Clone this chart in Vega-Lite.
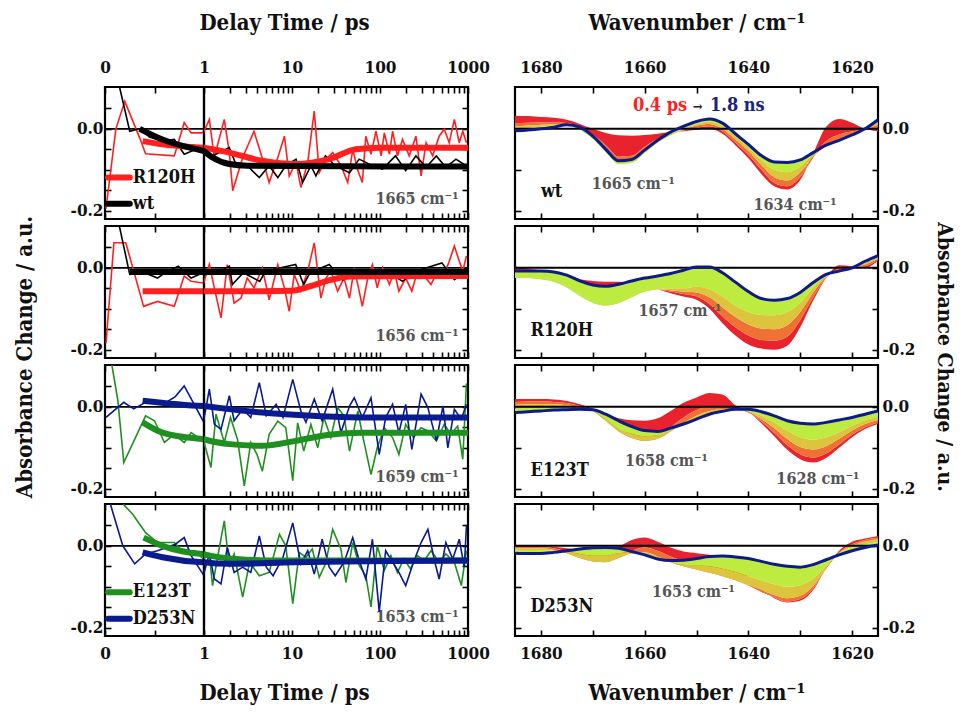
{
"$schema": "https://vega.github.io/schema/vega-lite/v6.json",
"background": "white",
"padding": {"left": 13, "top": 9, "right": 4, "bottom": 0},
"data": {"values": [{}]},
"config": {
  "font": "DejaVu Serif Condensed, Liberation Serif, serif",
  "view": {"stroke": "#000", "strokeWidth": 2.2},
  "axis": {"domain": false, "grid": false, "tickSize": -6, "tickWidth": 1.6, "tickColor": "#000",
    "labelFont": "DejaVu Serif Condensed, Liberation Serif, serif", "labelFontSize": 17, "labelFontWeight": "bold", "labelColor": "#111",
    "titleFont": "DejaVu Serif Condensed, Liberation Serif, serif", "titleFontSize": 22, "titleFontWeight": "bold", "titleColor": "#111",
    "minExtent": 0, "labelFlush": false, "labelOverlap": false, "labelBound": false},
  "title": {"font": "DejaVu Serif Condensed, Liberation Serif, serif", "fontSize": 22, "fontWeight": "bold", "color": "#111"},
  "text": {"font": "DejaVu Serif Condensed, Liberation Serif, serif", "fontWeight": "bold"}
},
"datasets": {
  "k1665": [
    {"s":"R120H","t":0.01,"v":-0.195},{"s":"R120H","t":0.11,"v":0.0},{"s":"R120H","t":0.2,"v":0.067},{"s":"R120H","t":0.35,"v":-0.022},{"s":"R120H","t":0.41,"v":-0.061},{"s":"R120H","t":0.7,"v":-0.066},{"s":"R120H","t":0.8,"v":0.015},{"s":"R120H","t":0.87,"v":-0.01},{"s":"R120H","t":0.98,"v":-0.01},{"s":"R120H","t":1.15,"v":0.023},{"s":"R120H","t":1.31,"v":-0.07},{"s":"R120H","t":1.7,"v":0.023},{"s":"R120H","t":1.94,"v":-0.058},{"s":"R120H","t":2.12,"v":-0.151},{"s":"R120H","t":2.75,"v":-0.07},{"s":"R120H","t":3.7,"v":-0.006},{"s":"R120H","t":4.64,"v":-0.074},{"s":"R120H","t":5.5,"v":-0.131},{"s":"R120H","t":6.9,"v":-0.07},{"s":"R120H","t":8.2,"v":-0.018},{"s":"R120H","t":9.3,"v":-0.115},{"s":"R120H","t":11.1,"v":-0.082},{"s":"R120H","t":12.6,"v":-0.143},{"s":"R120H","t":15.1,"v":-0.082},{"s":"R120H","t":17.9,"v":0.043},{"s":"R120H","t":20.4,"v":-0.107},{"s":"R120H","t":24.3,"v":-0.074},{"s":"R120H","t":29,"v":-0.058},{"s":"R120H","t":36,"v":-0.09},{"s":"R120H","t":43,"v":-0.131},{"s":"R120H","t":49,"v":-0.05},{"s":"R120H","t":56,"v":-0.102},{"s":"R120H","t":63,"v":-0.131},{"s":"R120H","t":69,"v":-0.018},{"s":"R120H","t":79,"v":-0.062},{"s":"R120H","t":90,"v":-0.006},{"s":"R120H","t":103,"v":-0.066},{"s":"R120H","t":112,"v":-0.01},{"s":"R120H","t":128,"v":-0.062},{"s":"R120H","t":139,"v":-0.006},{"s":"R120H","t":158,"v":-0.066},{"s":"R120H","t":180,"v":-0.026},{"s":"R120H","t":215,"v":-0.066},{"s":"R120H","t":256,"v":-0.018},{"s":"R120H","t":293,"v":-0.115},{"s":"R120H","t":334,"v":-0.034},{"s":"R120H","t":397,"v":-0.066},{"s":"R120H","t":470,"v":-0.018},{"s":"R120H","t":537,"v":-0.001},{"s":"R120H","t":612,"v":-0.034},{"s":"R120H","t":700,"v":0.023},{"s":"R120H","t":796,"v":-0.034},{"s":"R120H","t":872,"v":-0.006},{"s":"R120H","t":960,"v":-0.034},
    {"s":"wt","t":0.12,"v":0.13},{"s":"wt","t":0.25,"v":-0.006},{"s":"wt","t":0.35,"v":0.0},{"s":"wt","t":0.45,"v":-0.02},{"s":"wt","t":0.58,"v":-0.03},{"s":"wt","t":0.7,"v":-0.026},{"s":"wt","t":0.8,"v":-0.062},{"s":"wt","t":0.92,"v":-0.05},{"s":"wt","t":0.99,"v":-0.054},{"s":"wt","t":1.25,"v":-0.066},{"s":"wt","t":1.94,"v":-0.046},{"s":"wt","t":2.3,"v":-0.086},{"s":"wt","t":3.1,"v":-0.09},{"s":"wt","t":4.25,"v":-0.119},{"s":"wt","t":5.5,"v":-0.09},{"s":"wt","t":6.9,"v":-0.119},{"s":"wt","t":8.5,"v":-0.09},{"s":"wt","t":11.1,"v":-0.074},{"s":"wt","t":13.2,"v":-0.131},{"s":"wt","t":16.4,"v":-0.09},{"s":"wt","t":18.7,"v":-0.115},{"s":"wt","t":24,"v":-0.066},{"s":"wt","t":31,"v":-0.09},{"s":"wt","t":45,"v":-0.107},{"s":"wt","t":58,"v":-0.074},{"s":"wt","t":82,"v":-0.09},{"s":"wt","t":107,"v":-0.098},{"s":"wt","t":150,"v":-0.066},{"s":"wt","t":196,"v":-0.102},{"s":"wt","t":256,"v":-0.066},{"s":"wt","t":334,"v":-0.094},{"s":"wt","t":437,"v":-0.066},{"s":"wt","t":560,"v":-0.094},{"s":"wt","t":730,"v":-0.074},{"s":"wt","t":950,"v":-0.09}
  ],
  "f1665": [
    {"s":"R120H","t":0.38,"v":-0.03},{"s":"R120H","t":0.58,"v":-0.038},{"s":"R120H","t":0.99,"v":-0.046},{"s":"R120H","t":1.94,"v":-0.058},{"s":"R120H","t":4.6,"v":-0.078},{"s":"R120H","t":11,"v":-0.086},{"s":"R120H","t":26.5,"v":-0.074},{"s":"R120H","t":53,"v":-0.05},{"s":"R120H","t":98,"v":-0.046},{"s":"R120H","t":1000,"v":-0.046},
    {"s":"wt","t":0.35,"v":0.0},{"s":"wt","t":0.58,"v":-0.026},{"s":"wt","t":0.99,"v":-0.054},{"s":"wt","t":1.25,"v":-0.07},{"s":"wt","t":1.94,"v":-0.086},{"s":"wt","t":3.1,"v":-0.09},{"s":"wt","t":10,"v":-0.091},{"s":"wt","t":1000,"v":-0.092}
  ],
  "k1656": [
    {"s":"R120H","t":0.01,"v":-0.184},{"s":"R120H","t":0.09,"v":0.061},{"s":"R120H","t":0.21,"v":0.061},{"s":"R120H","t":0.39,"v":-0.094},{"s":"R120H","t":0.53,"v":-0.082},{"s":"R120H","t":0.7,"v":-0.094},{"s":"R120H","t":0.8,"v":-0.02},{"s":"R120H","t":0.87,"v":-0.033},{"s":"R120H","t":0.99,"v":-0.037},{"s":"R120H","t":1.15,"v":0.008},{"s":"R120H","t":1.31,"v":-0.049},{"s":"R120H","t":1.56,"v":-0.122},{"s":"R120H","t":1.84,"v":0.008},{"s":"R120H","t":2.2,"v":-0.086},{"s":"R120H","t":2.63,"v":-0.074},{"s":"R120H","t":3.1,"v":-0.025},{"s":"R120H","t":3.7,"v":-0.049},{"s":"R120H","t":4.6,"v":0.0},{"s":"R120H","t":5.5,"v":-0.078},{"s":"R120H","t":6.9,"v":0.008},{"s":"R120H","t":8.2,"v":-0.049},{"s":"R120H","t":9.3,"v":-0.106},{"s":"R120H","t":10.6,"v":-0.016},{"s":"R120H","t":12.6,"v":-0.057},{"s":"R120H","t":15.1,"v":-0.008},{"s":"R120H","t":17.9,"v":0.061},{"s":"R120H","t":21.3,"v":-0.074},{"s":"R120H","t":24.3,"v":-0.025},{"s":"R120H","t":27.6,"v":-0.008},{"s":"R120H","t":33,"v":-0.057},{"s":"R120H","t":39,"v":-0.025},{"s":"R120H","t":45,"v":-0.074},{"s":"R120H","t":51,"v":0.0},{"s":"R120H","t":63,"v":-0.094},{"s":"R120H","t":72,"v":-0.029},{"s":"R120H","t":82,"v":0.008},{"s":"R120H","t":93,"v":-0.049},{"s":"R120H","t":107,"v":0.0},{"s":"R120H","t":128,"v":-0.041},{"s":"R120H","t":145,"v":-0.008},{"s":"R120H","t":164,"v":-0.057},{"s":"R120H","t":196,"v":-0.025},{"s":"R120H","t":230,"v":-0.057},{"s":"R120H","t":267,"v":-0.008},{"s":"R120H","t":318,"v":-0.02},{"s":"R120H","t":380,"v":-0.041},{"s":"R120H","t":450,"v":-0.008},{"s":"R120H","t":537,"v":-0.016},{"s":"R120H","t":612,"v":0.016},{"s":"R120H","t":700,"v":0.053},{"s":"R120H","t":796,"v":0.016},{"s":"R120H","t":872,"v":-0.008},{"s":"R120H","t":960,"v":0.029},
    {"s":"wt","t":0.12,"v":0.13},{"s":"wt","t":0.25,"v":-0.016},{"s":"wt","t":0.4,"v":-0.012},{"s":"wt","t":0.53,"v":-0.025},{"s":"wt","t":0.62,"v":-0.01},{"s":"wt","t":0.74,"v":0.004},{"s":"wt","t":0.87,"v":-0.025},{"s":"wt","t":0.99,"v":-0.012},{"s":"wt","t":1.3,"v":-0.016},{"s":"wt","t":1.94,"v":0.004},{"s":"wt","t":2.1,"v":-0.041},{"s":"wt","t":2.8,"v":-0.012},{"s":"wt","t":4.3,"v":-0.033},{"s":"wt","t":5,"v":-0.008},{"s":"wt","t":11,"v":0.008},{"s":"wt","t":13.6,"v":-0.041},{"s":"wt","t":16,"v":-0.012},{"s":"wt","t":26.5,"v":0.008},{"s":"wt","t":37.5,"v":-0.029},{"s":"wt","t":60,"v":-0.012},{"s":"wt","t":75,"v":-0.02},{"s":"wt","t":120,"v":-0.008},{"s":"wt","t":180,"v":-0.033},{"s":"wt","t":260,"v":-0.008},{"s":"wt","t":505,"v":0.012},{"s":"wt","t":700,"v":-0.029},{"s":"wt","t":960,"v":-0.008}
  ],
  "f1656": [
    {"s":"R120H","t":0.38,"v":-0.057},{"s":"R120H","t":0.99,"v":-0.057},{"s":"R120H","t":4.6,"v":-0.057},{"s":"R120H","t":10,"v":-0.056},{"s":"R120H","t":16,"v":-0.045},{"s":"R120H","t":25,"v":-0.032},{"s":"R120H","t":45,"v":-0.021},{"s":"R120H","t":1000,"v":-0.02},
    {"s":"wt","t":0.25,"v":-0.01},{"s":"wt","t":1000,"v":-0.01}
  ],
  "k1659": [
    {"s":"E123T","t":0.05,"v":0.13},{"s":"E123T","t":0.13,"v":0.015},{"s":"E123T","t":0.19,"v":-0.136},{"s":"E123T","t":0.41,"v":-0.022},{"s":"E123T","t":0.5,"v":-0.034},{"s":"E123T","t":0.6,"v":-0.087},{"s":"E123T","t":0.7,"v":-0.067},{"s":"E123T","t":0.8,"v":-0.087},{"s":"E123T","t":0.87,"v":-0.063},{"s":"E123T","t":0.99,"v":-0.083},{"s":"E123T","t":1.2,"v":-0.148},{"s":"E123T","t":1.37,"v":-0.018},{"s":"E123T","t":1.7,"v":-0.087},{"s":"E123T","t":2.0,"v":-0.026},{"s":"E123T","t":2.4,"v":-0.079},{"s":"E123T","t":2.87,"v":-0.193},{"s":"E123T","t":3.4,"v":-0.087},{"s":"E123T","t":4.0,"v":-0.116},{"s":"E123T","t":4.6,"v":-0.157},{"s":"E123T","t":5.5,"v":-0.067},{"s":"E123T","t":6.9,"v":-0.035},{"s":"E123T","t":8.5,"v":-0.051},{"s":"E123T","t":10.2,"v":-0.18},{"s":"E123T","t":11.6,"v":-0.039},{"s":"E123T","t":13.6,"v":-0.108},{"s":"E123T","t":16.4,"v":-0.043},{"s":"E123T","t":19.6,"v":-0.1},{"s":"E123T","t":23,"v":-0.026},{"s":"E123T","t":27.6,"v":-0.075},{"s":"E123T","t":33,"v":-0.002},{"s":"E123T","t":39,"v":-0.022},{"s":"E123T","t":45,"v":-0.108},{"s":"E123T","t":56,"v":-0.01},{"s":"E123T","t":63,"v":-0.067},{"s":"E123T","t":79,"v":-0.165},{"s":"E123T","t":93,"v":-0.1},{"s":"E123T","t":112,"v":-0.051},{"s":"E123T","t":139,"v":-0.075},{"s":"E123T","t":164,"v":-0.116},{"s":"E123T","t":196,"v":-0.043},{"s":"E123T","t":240,"v":-0.075},{"s":"E123T","t":293,"v":-0.051},{"s":"E123T","t":350,"v":-0.059},{"s":"E123T","t":437,"v":-0.083},{"s":"E123T","t":537,"v":-0.043},{"s":"E123T","t":640,"v":-0.067},{"s":"E123T","t":763,"v":-0.047},{"s":"E123T","t":872,"v":-0.128},{"s":"E123T","t":960,"v":0.057},
    {"s":"D253N","t":0.01,"v":-0.026},{"s":"D253N","t":0.19,"v":0.011},{"s":"D253N","t":0.29,"v":-0.005},{"s":"D253N","t":0.41,"v":0.011},{"s":"D253N","t":0.6,"v":0.008},{"s":"D253N","t":0.71,"v":0.025},{"s":"D253N","t":0.8,"v":0.051},{"s":"D253N","t":0.99,"v":-0.034},{"s":"D253N","t":1.15,"v":0.043},{"s":"D253N","t":1.31,"v":-0.042},{"s":"D253N","t":1.56,"v":-0.055},{"s":"D253N","t":1.94,"v":0.027},{"s":"D253N","t":2.2,"v":-0.034},{"s":"D253N","t":2.75,"v":-0.006},{"s":"D253N","t":3.4,"v":-0.026},{"s":"D253N","t":4.25,"v":0.059},{"s":"D253N","t":5.1,"v":-0.022},{"s":"D253N","t":6.6,"v":0.006},{"s":"D253N","t":7.9,"v":-0.026},{"s":"D253N","t":10.2,"v":0.067},{"s":"D253N","t":12.6,"v":-0.01},{"s":"D253N","t":14.4,"v":-0.038},{"s":"D253N","t":17.9,"v":0.019},{"s":"D253N","t":22,"v":-0.034},{"s":"D253N","t":29,"v":0.043},{"s":"D253N","t":36,"v":-0.063},{"s":"D253N","t":45,"v":0.002},{"s":"D253N","t":51,"v":0.022},{"s":"D253N","t":63,"v":-0.026},{"s":"D253N","t":79,"v":0.022},{"s":"D253N","t":98,"v":-0.116},{"s":"D253N","t":116,"v":-0.026},{"s":"D253N","t":139,"v":0.006},{"s":"D253N","t":164,"v":-0.063},{"s":"D253N","t":196,"v":0.006},{"s":"D253N","t":230,"v":-0.104},{"s":"D253N","t":293,"v":0.031},{"s":"D253N","t":350,"v":-0.002},{"s":"D253N","t":437,"v":-0.083},{"s":"D253N","t":520,"v":0.002},{"s":"D253N","t":590,"v":-0.1},{"s":"D253N","t":700,"v":-0.006},{"s":"D253N","t":840,"v":-0.03},{"s":"D253N","t":960,"v":0.006}
  ],
  "f1659": [
    {"s":"E123T","t":0.38,"v":-0.038},{"s":"E123T","t":0.58,"v":-0.063},{"s":"E123T","t":0.99,"v":-0.079},{"s":"E123T","t":1.94,"v":-0.091},{"s":"E123T","t":4.6,"v":-0.095},{"s":"E123T","t":11,"v":-0.083},{"s":"E123T","t":26.5,"v":-0.068},{"s":"E123T","t":63,"v":-0.063},{"s":"E123T","t":1000,"v":-0.063},
    {"s":"D253N","t":0.38,"v":0.015},{"s":"D253N","t":0.99,"v":0.002},{"s":"D253N","t":4.6,"v":-0.014},{"s":"D253N","t":17,"v":-0.022},{"s":"D253N","t":63,"v":-0.026},{"s":"D253N","t":1000,"v":-0.026}
  ],
  "k1653": [
    {"s":"E123T","t":0.15,"v":0.13},{"s":"E123T","t":0.19,"v":0.1},{"s":"E123T","t":0.28,"v":0.077},{"s":"E123T","t":0.41,"v":0.032},{"s":"E123T","t":0.53,"v":0.008},{"s":"E123T","t":0.7,"v":0.008},{"s":"E123T","t":0.78,"v":-0.012},{"s":"E123T","t":0.91,"v":-0.012},{"s":"E123T","t":0.99,"v":-0.032},{"s":"E123T","t":1.15,"v":-0.02},{"s":"E123T","t":1.25,"v":-0.097},{"s":"E123T","t":1.45,"v":-0.02},{"s":"E123T","t":1.7,"v":0.061},{"s":"E123T","t":1.94,"v":-0.052},{"s":"E123T","t":2.2,"v":-0.02},{"s":"E123T","t":2.75,"v":-0.125},{"s":"E123T","t":3.3,"v":-0.04},{"s":"E123T","t":4.25,"v":-0.073},{"s":"E123T","t":5.5,"v":-0.065},{"s":"E123T","t":7.2,"v":0.028},{"s":"E123T","t":8.5,"v":0.0},{"s":"E123T","t":10.2,"v":-0.141},{"s":"E123T","t":12.1,"v":-0.016},{"s":"E123T","t":14.4,"v":-0.028},{"s":"E123T","t":17,"v":-0.008},{"s":"E123T","t":20.4,"v":-0.077},{"s":"E123T","t":24,"v":-0.044},{"s":"E123T","t":29,"v":0.04},{"s":"E123T","t":36,"v":-0.008},{"s":"E123T","t":41,"v":-0.089},{"s":"E123T","t":49,"v":0.008},{"s":"E123T","t":58,"v":-0.048},{"s":"E123T","t":69,"v":-0.073},{"s":"E123T","t":79,"v":-0.149},{"s":"E123T","t":93,"v":0.0},{"s":"E123T","t":112,"v":-0.06},{"s":"E123T","t":133,"v":-0.024},{"s":"E123T","t":158,"v":-0.065},{"s":"E123T","t":187,"v":-0.032},{"s":"E123T","t":221,"v":-0.056},{"s":"E123T","t":267,"v":-0.024},{"s":"E123T","t":318,"v":-0.036},{"s":"E123T","t":380,"v":-0.012},{"s":"E123T","t":470,"v":-0.04},{"s":"E123T","t":560,"v":-0.02},{"s":"E123T","t":700,"v":-0.04},{"s":"E123T","t":840,"v":-0.097},{"s":"E123T","t":960,"v":-0.012},
    {"s":"D253N","t":0.05,"v":0.13},{"s":"D253N","t":0.06,"v":0.097},{"s":"D253N","t":0.18,"v":0.0},{"s":"D253N","t":0.3,"v":-0.044},{"s":"D253N","t":0.41,"v":-0.02},{"s":"D253N","t":0.53,"v":-0.012},{"s":"D253N","t":0.71,"v":0.004},{"s":"D253N","t":0.8,"v":0.02},{"s":"D253N","t":0.87,"v":-0.024},{"s":"D253N","t":0.99,"v":-0.069},{"s":"D253N","t":1.15,"v":-0.02},{"s":"D253N","t":1.31,"v":-0.081},{"s":"D253N","t":1.56,"v":-0.093},{"s":"D253N","t":1.84,"v":-0.004},{"s":"D253N","t":2.2,"v":-0.065},{"s":"D253N","t":2.75,"v":-0.052},{"s":"D253N","t":3.4,"v":-0.065},{"s":"D253N","t":4.25,"v":0.024},{"s":"D253N","t":5.1,"v":-0.052},{"s":"D253N","t":6.1,"v":-0.073},{"s":"D253N","t":7.9,"v":-0.028},{"s":"D253N","t":10.2,"v":0.056},{"s":"D253N","t":12.6,"v":-0.044},{"s":"D253N","t":15.1,"v":-0.012},{"s":"D253N","t":17.9,"v":-0.069},{"s":"D253N","t":22,"v":0.016},{"s":"D253N","t":26.5,"v":-0.052},{"s":"D253N","t":31,"v":-0.073},{"s":"D253N","t":39,"v":-0.04},{"s":"D253N","t":49,"v":0.02},{"s":"D253N","t":58,"v":-0.036},{"s":"D253N","t":69,"v":-0.081},{"s":"D253N","t":82,"v":0.016},{"s":"D253N","t":98,"v":-0.161},{"s":"D253N","t":116,"v":-0.012},{"s":"D253N","t":139,"v":-0.04},{"s":"D253N","t":164,"v":-0.065},{"s":"D253N","t":196,"v":-0.097},{"s":"D253N","t":240,"v":-0.04},{"s":"D253N","t":293,"v":0.008},{"s":"D253N","t":350,"v":0.04},{"s":"D253N","t":420,"v":-0.04},{"s":"D253N","t":470,"v":-0.081},{"s":"D253N","t":560,"v":0.008},{"s":"D253N","t":670,"v":-0.032},{"s":"D253N","t":796,"v":0.016},{"s":"D253N","t":907,"v":-0.052},{"s":"D253N","t":960,"v":0.048}
  ],
  "f1653": [
    {"s":"E123T","t":0.39,"v":0.02},{"s":"E123T","t":0.58,"v":0.0},{"s":"E123T","t":0.99,"v":-0.02},{"s":"E123T","t":2.3,"v":-0.032},{"s":"E123T","t":7.2,"v":-0.036},{"s":"E123T","t":1000,"v":-0.036},
    {"s":"D253N","t":0.38,"v":-0.016},{"s":"D253N","t":0.58,"v":-0.028},{"s":"D253N","t":0.99,"v":-0.04},{"s":"D253N","t":1.94,"v":-0.044},{"s":"D253N","t":11,"v":-0.04},{"s":"D253N","t":1000,"v":-0.036}
  ],
  "spec": [
    {"p":"wt","wn":1685,"c0":0.032,"c1":0.014,"c2":0.006,"c3":0.0,"fin":-0.005},
    {"p":"wt","wn":1682.5,"c0":0.031,"c1":0.015,"c2":0.008,"c3":0.002,"fin":-0.003},
    {"p":"wt","wn":1680,"c0":0.029,"c1":0.016,"c2":0.01,"c3":0.005,"fin":0.0},
    {"p":"wt","wn":1677.5,"c0":0.027,"c1":0.016,"c2":0.011,"c3":0.008,"fin":0.004},
    {"p":"wt","wn":1675,"c0":0.022,"c1":0.014,"c2":0.01,"c3":0.008,"fin":0.01},
    {"p":"wt","wn":1672.5,"c0":0.012,"c1":0.004,"c2":0.0,"c3":-0.002,"fin":0.004},
    {"p":"wt","wn":1670,"c0":0.0,"c1":-0.014,"c2":-0.02,"c3":-0.024,"fin":-0.018},
    {"p":"wt","wn":1667.5,"c0":-0.01,"c1":-0.04,"c2":-0.05,"c3":-0.056,"fin":-0.05},
    {"p":"wt","wn":1665,"c0":-0.016,"c1":-0.068,"c2":-0.078,"c3":-0.086,"fin":-0.078},
    {"p":"wt","wn":1662.5,"c0":-0.017,"c1":-0.066,"c2":-0.076,"c3":-0.083,"fin":-0.075},
    {"p":"wt","wn":1660,"c0":-0.015,"c1":-0.044,"c2":-0.053,"c3":-0.059,"fin":-0.052},
    {"p":"wt","wn":1657.5,"c0":-0.012,"c1":-0.024,"c2":-0.03,"c3":-0.034,"fin":-0.028},
    {"p":"wt","wn":1655,"c0":-0.008,"c1":-0.012,"c2":-0.015,"c3":-0.016,"fin":-0.008},
    {"p":"wt","wn":1652.5,"c0":-0.006,"c1":-0.004,"c2":-0.002,"c3":0.0,"fin":0.006},
    {"p":"wt","wn":1650,"c0":-0.002,"c1":0.002,"c2":0.008,"c3":0.012,"fin":0.018},
    {"p":"wt","wn":1647.5,"c0":0.0,"c1":0.006,"c2":0.012,"c3":0.018,"fin":0.024},
    {"p":"wt","wn":1645,"c0":-0.012,"c1":-0.006,"c2":0.0,"c3":0.006,"fin":0.014},
    {"p":"wt","wn":1642.5,"c0":-0.04,"c1":-0.034,"c2":-0.026,"c3":-0.018,"fin":-0.012},
    {"p":"wt","wn":1640,"c0":-0.072,"c1":-0.064,"c2":-0.054,"c3":-0.046,"fin":-0.038},
    {"p":"wt","wn":1637.5,"c0":-0.11,"c1":-0.1,"c2":-0.088,"c3":-0.076,"fin":-0.065},
    {"p":"wt","wn":1635,"c0":-0.14,"c1":-0.132,"c2":-0.118,"c3":-0.1,"fin":-0.081},
    {"p":"wt","wn":1632.5,"c0":-0.148,"c1":-0.14,"c2":-0.126,"c3":-0.106,"fin":-0.082},
    {"p":"wt","wn":1630,"c0":-0.125,"c1":-0.118,"c2":-0.106,"c3":-0.092,"fin":-0.076},
    {"p":"wt","wn":1627.5,"c0":-0.06,"c1":-0.07,"c2":-0.068,"c3":-0.062,"fin":-0.058},
    {"p":"wt","wn":1625,"c0":0.005,"c1":-0.03,"c2":-0.04,"c3":-0.042,"fin":-0.04},
    {"p":"wt","wn":1622.5,"c0":0.024,"c1":-0.014,"c2":-0.024,"c3":-0.027,"fin":-0.028},
    {"p":"wt","wn":1620,"c0":0.015,"c1":-0.006,"c2":-0.012,"c3":-0.014,"fin":-0.015},
    {"p":"wt","wn":1617.5,"c0":0.0,"c1":-0.002,"c2":-0.002,"c3":-0.001,"fin":0.0},
    {"p":"wt","wn":1615,"c0":-0.006,"c1":0.004,"c2":0.01,"c3":0.016,"fin":0.022},
    {"p":"R120H","wn":1685,"c0":0.004,"c1":-0.01,"c2":-0.02,"c3":-0.024,"fin":-0.008},
    {"p":"R120H","wn":1682.5,"c0":-0.002,"c1":-0.012,"c2":-0.022,"c3":-0.025,"fin":-0.008},
    {"p":"R120H","wn":1680,"c0":-0.006,"c1":-0.015,"c2":-0.024,"c3":-0.028,"fin":-0.008},
    {"p":"R120H","wn":1677.5,"c0":-0.012,"c1":-0.02,"c2":-0.03,"c3":-0.034,"fin":-0.01},
    {"p":"R120H","wn":1675,"c0":-0.02,"c1":-0.03,"c2":-0.042,"c3":-0.048,"fin":-0.018},
    {"p":"R120H","wn":1672.5,"c0":-0.028,"c1":-0.045,"c2":-0.06,"c3":-0.068,"fin":-0.032},
    {"p":"R120H","wn":1670,"c0":-0.032,"c1":-0.055,"c2":-0.075,"c3":-0.085,"fin":-0.042},
    {"p":"R120H","wn":1667.5,"c0":-0.034,"c1":-0.06,"c2":-0.082,"c3":-0.092,"fin":-0.045},
    {"p":"R120H","wn":1665,"c0":-0.034,"c1":-0.058,"c2":-0.078,"c3":-0.086,"fin":-0.04},
    {"p":"R120H","wn":1662.5,"c0":-0.036,"c1":-0.052,"c2":-0.066,"c3":-0.072,"fin":-0.032},
    {"p":"R120H","wn":1660,"c0":-0.042,"c1":-0.048,"c2":-0.055,"c3":-0.058,"fin":-0.025},
    {"p":"R120H","wn":1657.5,"c0":-0.052,"c1":-0.052,"c2":-0.052,"c3":-0.052,"fin":-0.02},
    {"p":"R120H","wn":1655,"c0":-0.062,"c1":-0.058,"c2":-0.055,"c3":-0.05,"fin":-0.014},
    {"p":"R120H","wn":1652.5,"c0":-0.07,"c1":-0.064,"c2":-0.058,"c3":-0.05,"fin":-0.006},
    {"p":"R120H","wn":1650,"c0":-0.078,"c1":-0.07,"c2":-0.06,"c3":-0.046,"fin":0.002},
    {"p":"R120H","wn":1647.5,"c0":-0.1,"c1":-0.088,"c2":-0.072,"c3":-0.052,"fin":0.002},
    {"p":"R120H","wn":1645,"c0":-0.135,"c1":-0.118,"c2":-0.096,"c3":-0.07,"fin":-0.012},
    {"p":"R120H","wn":1642.5,"c0":-0.165,"c1":-0.145,"c2":-0.12,"c3":-0.092,"fin":-0.035},
    {"p":"R120H","wn":1640,"c0":-0.187,"c1":-0.165,"c2":-0.138,"c3":-0.108,"fin":-0.058},
    {"p":"R120H","wn":1637.5,"c0":-0.197,"c1":-0.176,"c2":-0.148,"c3":-0.115,"fin":-0.075},
    {"p":"R120H","wn":1635,"c0":-0.2,"c1":-0.178,"c2":-0.15,"c3":-0.116,"fin":-0.079},
    {"p":"R120H","wn":1632.5,"c0":-0.19,"c1":-0.168,"c2":-0.14,"c3":-0.108,"fin":-0.075},
    {"p":"R120H","wn":1630,"c0":-0.145,"c1":-0.128,"c2":-0.108,"c3":-0.085,"fin":-0.06},
    {"p":"R120H","wn":1627.5,"c0":-0.08,"c1":-0.072,"c2":-0.06,"c3":-0.048,"fin":-0.036},
    {"p":"R120H","wn":1625,"c0":-0.025,"c1":-0.024,"c2":-0.022,"c3":-0.02,"fin":-0.016},
    {"p":"R120H","wn":1622.5,"c0":0.006,"c1":-0.002,"c2":-0.006,"c3":-0.008,"fin":-0.008},
    {"p":"R120H","wn":1620,"c0":0.004,"c1":0.002,"c2":0.0,"c3":0.0,"fin":0.0},
    {"p":"R120H","wn":1617.5,"c0":0.0,"c1":0.004,"c2":0.008,"c3":0.012,"fin":0.016},
    {"p":"R120H","wn":1615,"c0":0.018,"c1":0.02,"c2":0.022,"c3":0.025,"fin":0.03},
    {"p":"E123T","wn":1685,"c0":0.019,"c1":0.012,"c2":0.005,"c3":-0.004,"fin":-0.014},
    {"p":"E123T","wn":1682.5,"c0":0.019,"c1":0.013,"c2":0.006,"c3":-0.003,"fin":-0.012},
    {"p":"E123T","wn":1680,"c0":0.019,"c1":0.013,"c2":0.007,"c3":-0.002,"fin":-0.01},
    {"p":"E123T","wn":1677.5,"c0":0.018,"c1":0.012,"c2":0.006,"c3":-0.002,"fin":-0.008},
    {"p":"E123T","wn":1675,"c0":0.014,"c1":0.009,"c2":0.004,"c3":-0.002,"fin":-0.007},
    {"p":"E123T","wn":1672.5,"c0":0.006,"c1":0.002,"c2":-0.001,"c3":-0.004,"fin":-0.006},
    {"p":"E123T","wn":1670,"c0":-0.004,"c1":-0.008,"c2":-0.01,"c3":-0.01,"fin":-0.007},
    {"p":"E123T","wn":1667.5,"c0":-0.018,"c1":-0.03,"c2":-0.034,"c3":-0.03,"fin":-0.018},
    {"p":"E123T","wn":1665,"c0":-0.028,"c1":-0.052,"c2":-0.06,"c3":-0.054,"fin":-0.034},
    {"p":"E123T","wn":1662.5,"c0":-0.033,"c1":-0.068,"c2":-0.076,"c3":-0.066,"fin":-0.048},
    {"p":"E123T","wn":1660,"c0":-0.034,"c1":-0.076,"c2":-0.083,"c3":-0.072,"fin":-0.058},
    {"p":"E123T","wn":1657.5,"c0":-0.028,"c1":-0.07,"c2":-0.078,"c3":-0.07,"fin":-0.06},
    {"p":"E123T","wn":1655,"c0":-0.01,"c1":-0.05,"c2":-0.06,"c3":-0.058,"fin":-0.052},
    {"p":"E123T","wn":1652.5,"c0":0.01,"c1":-0.026,"c2":-0.04,"c3":-0.043,"fin":-0.042},
    {"p":"E123T","wn":1650,"c0":0.023,"c1":-0.008,"c2":-0.022,"c3":-0.03,"fin":-0.03},
    {"p":"E123T","wn":1647.5,"c0":0.034,"c1":0.002,"c2":-0.01,"c3":-0.018,"fin":-0.018},
    {"p":"E123T","wn":1645,"c0":0.03,"c1":0.002,"c2":-0.006,"c3":-0.012,"fin":-0.011},
    {"p":"E123T","wn":1642.5,"c0":0.004,"c1":-0.004,"c2":-0.007,"c3":-0.008,"fin":-0.006},
    {"p":"E123T","wn":1640,"c0":-0.012,"c1":-0.014,"c2":-0.012,"c3":-0.01,"fin":-0.006},
    {"p":"E123T","wn":1637.5,"c0":-0.04,"c1":-0.036,"c2":-0.03,"c3":-0.022,"fin":-0.012},
    {"p":"E123T","wn":1635,"c0":-0.072,"c1":-0.064,"c2":-0.052,"c3":-0.038,"fin":-0.022},
    {"p":"E123T","wn":1632.5,"c0":-0.105,"c1":-0.094,"c2":-0.078,"c3":-0.058,"fin":-0.034},
    {"p":"E123T","wn":1630,"c0":-0.128,"c1":-0.116,"c2":-0.098,"c3":-0.074,"fin":-0.04},
    {"p":"E123T","wn":1627.5,"c0":-0.136,"c1":-0.124,"c2":-0.104,"c3":-0.08,"fin":-0.042},
    {"p":"E123T","wn":1625,"c0":-0.125,"c1":-0.114,"c2":-0.096,"c3":-0.074,"fin":-0.038},
    {"p":"E123T","wn":1622.5,"c0":-0.1,"c1":-0.092,"c2":-0.078,"c3":-0.062,"fin":-0.032},
    {"p":"E123T","wn":1620,"c0":-0.074,"c1":-0.068,"c2":-0.058,"c3":-0.046,"fin":-0.026},
    {"p":"E123T","wn":1617.5,"c0":-0.054,"c1":-0.05,"c2":-0.042,"c3":-0.032,"fin":-0.018},
    {"p":"E123T","wn":1615,"c0":-0.042,"c1":-0.038,"c2":-0.032,"c3":-0.024,"fin":-0.01},
    {"p":"D253N","wn":1685,"c0":0.002,"c1":-0.002,"c2":-0.006,"c3":-0.01,"fin":-0.018},
    {"p":"D253N","wn":1682.5,"c0":0.001,"c1":-0.003,"c2":-0.006,"c3":-0.01,"fin":-0.019},
    {"p":"D253N","wn":1680,"c0":0.0,"c1":-0.003,"c2":-0.006,"c3":-0.01,"fin":-0.019},
    {"p":"D253N","wn":1677.5,"c0":-0.002,"c1":-0.006,"c2":-0.01,"c3":-0.012,"fin":-0.016},
    {"p":"D253N","wn":1675,"c0":-0.006,"c1":-0.014,"c2":-0.018,"c3":-0.014,"fin":-0.012},
    {"p":"D253N","wn":1672.5,"c0":-0.01,"c1":-0.026,"c2":-0.03,"c3":-0.02,"fin":-0.008},
    {"p":"D253N","wn":1670,"c0":-0.012,"c1":-0.034,"c2":-0.038,"c3":-0.024,"fin":-0.005},
    {"p":"D253N","wn":1667.5,"c0":-0.01,"c1":-0.036,"c2":-0.04,"c3":-0.024,"fin":-0.004},
    {"p":"D253N","wn":1665,"c0":-0.002,"c1":-0.026,"c2":-0.03,"c3":-0.018,"fin":-0.006},
    {"p":"D253N","wn":1662.5,"c0":0.014,"c1":-0.012,"c2":-0.018,"c3":-0.016,"fin":-0.014},
    {"p":"D253N","wn":1660,"c0":0.02,"c1":-0.004,"c2":-0.016,"c3":-0.02,"fin":-0.022},
    {"p":"D253N","wn":1657.5,"c0":0.01,"c1":-0.012,"c2":-0.026,"c3":-0.03,"fin":-0.032},
    {"p":"D253N","wn":1655,"c0":-0.004,"c1":-0.026,"c2":-0.04,"c3":-0.04,"fin":-0.036},
    {"p":"D253N","wn":1652.5,"c0":-0.014,"c1":-0.038,"c2":-0.05,"c3":-0.046,"fin":-0.035},
    {"p":"D253N","wn":1650,"c0":-0.018,"c1":-0.046,"c2":-0.058,"c3":-0.048,"fin":-0.031},
    {"p":"D253N","wn":1647.5,"c0":-0.022,"c1":-0.056,"c2":-0.066,"c3":-0.05,"fin":-0.026},
    {"p":"D253N","wn":1645,"c0":-0.03,"c1":-0.066,"c2":-0.074,"c3":-0.056,"fin":-0.025},
    {"p":"D253N","wn":1642.5,"c0":-0.05,"c1":-0.08,"c2":-0.084,"c3":-0.064,"fin":-0.027},
    {"p":"D253N","wn":1640,"c0":-0.075,"c1":-0.096,"c2":-0.096,"c3":-0.074,"fin":-0.031},
    {"p":"D253N","wn":1637.5,"c0":-0.105,"c1":-0.112,"c2":-0.108,"c3":-0.084,"fin":-0.038},
    {"p":"D253N","wn":1635,"c0":-0.128,"c1":-0.126,"c2":-0.12,"c3":-0.094,"fin":-0.045},
    {"p":"D253N","wn":1632.5,"c0":-0.138,"c1":-0.136,"c2":-0.128,"c3":-0.1,"fin":-0.05},
    {"p":"D253N","wn":1630,"c0":-0.134,"c1":-0.13,"c2":-0.122,"c3":-0.096,"fin":-0.052},
    {"p":"D253N","wn":1627.5,"c0":-0.108,"c1":-0.104,"c2":-0.098,"c3":-0.08,"fin":-0.046},
    {"p":"D253N","wn":1625,"c0":-0.055,"c1":-0.056,"c2":-0.054,"c3":-0.048,"fin":-0.034},
    {"p":"D253N","wn":1622.5,"c0":-0.012,"c1":-0.016,"c2":-0.018,"c3":-0.018,"fin":-0.022},
    {"p":"D253N","wn":1620,"c0":0.01,"c1":0.004,"c2":0.0,"c3":-0.004,"fin":-0.012},
    {"p":"D253N","wn":1617.5,"c0":0.018,"c1":0.014,"c2":0.01,"c3":0.004,"fin":-0.004},
    {"p":"D253N","wn":1615,"c0":0.024,"c1":0.02,"c2":0.016,"c3":0.01,"fin":0.002}
  ]
},
"hconcat": [
 {
  "vconcat": [
   {"hconcat": [
     {"width": 99, "height": 132,
      "layer": [
       {"mark": {"type": "rule", "color": "#000", "strokeWidth": 1.8},
        "encoding": {
          "x": {"datum": 0, "type": "quantitative", "scale": {"domain": [0, 1], "nice": false, "zero": false}, "axis": {"orient": "top", "values": [0, 0.5], "labelExpr": "datum.value == 0 ? '0' : ''", "title": null, "labelPadding": 17}},
          "x2": {"datum": 1},
          "y": {"datum": 0, "type": "quantitative", "scale": {"domain": [-0.22, 0.102], "nice": false, "zero": false}, "axis": {"orient": "left", "values": [-0.2, -0.15, -0.1, -0.05, 0, 0.05], "labelExpr": "datum.value == 0 ? '0.0' : (datum.value == -0.2 ? '-0.2' : '')", "title": null, "labelPadding": 8}}}},
       {"data": {"name": "k1665"}, "mark": {"type": "line", "strokeWidth": 1.6, "clip": true},
        "encoding": {
          "x": {"field": "t", "type": "quantitative", "scale": {"domain": [0, 1], "nice": false, "zero": false}, "axis": {"orient": "bottom", "values": [0, 0.5], "labels": false, "title": null}},
          "y": {"field": "v", "type": "quantitative", "scale": {"domain": [-0.22, 0.102], "nice": false, "zero": false}, "axis": null},
          "color": {"field": "s", "type": "nominal", "scale": {"domain": ["R120H", "wt", "E123T", "D253N"], "range": ["#ff1f1f", "#000000", "#1f8f1f", "#0a1a8f"]}, "legend": null}}},
       {"data": {"name": "f1665"}, "mark": {"type": "line", "strokeWidth": 6, "clip": true, "interpolate": "monotone"},
        "encoding": {
          "x": {"field": "t", "type": "quantitative", "axis": null},
          "y": {"field": "v", "type": "quantitative", "axis": null},
          "color": {"field": "s", "type": "nominal", "legend": null}}},
       {"mark": {"type": "rule", "color": "#ff1f1f", "strokeWidth": 6, "strokeCap": "round"},
        "encoding": {"x": {"datum": 0.03, "type": "quantitative", "axis": null}, "x2": {"datum": 0.25}, "y": {"datum": -0.119, "type": "quantitative", "axis": null}}},
       {"mark": {"type": "text", "align": "left", "baseline": "middle", "fontSize": 18, "color": "#111"},
        "encoding": {"x": {"datum": 0.28, "type": "quantitative", "axis": null}, "y": {"datum": -0.119, "type": "quantitative", "axis": null}, "text": {"value": "R120H"}}},
       {"mark": {"type": "rule", "color": "#000", "strokeWidth": 6, "strokeCap": "round"},
        "encoding": {"x": {"datum": 0.03, "type": "quantitative", "axis": null}, "x2": {"datum": 0.25}, "y": {"datum": -0.183, "type": "quantitative", "axis": null}}},
       {"mark": {"type": "text", "align": "left", "baseline": "middle", "fontSize": 18, "color": "#111"},
        "encoding": {"x": {"datum": 0.28, "type": "quantitative", "axis": null}, "y": {"datum": -0.183, "type": "quantitative", "axis": null}, "text": {"value": "wt"}}}
      ],
      "resolve": {"axis": {"x": "independent", "y": "independent"}}},
     {"width": 264, "height": 132,
      "layer": [
       {"mark": {"type": "rule", "color": "#000", "strokeWidth": 1.8},
        "encoding": {
          "x": {"datum": 1, "type": "quantitative", "scale": {"type": "log", "domain": [1, 1000], "nice": false}, "axis": {"orient": "top", "values": [1,2,3,4,5,6,7,8,9,10,20,30,40,50,60,70,80,90,100,200,300,400,500,600,700,800,900,1000], "format": "d", "labelExpr": "indexof([1, 10, 100, 1000], datum.value) >= 0 ? datum.label : ''", "title": "Delay Time / ps", "titleX": 80, "titlePadding": 24, "labelPadding": 17}},
          "x2": {"datum": 1000},
          "y": {"datum": 0, "type": "quantitative", "scale": {"domain": [-0.22, 0.102], "nice": false, "zero": false}, "axis": {"orient": "right", "values": [-0.2, -0.15, -0.1, -0.05, 0, 0.05], "labels": false, "title": null}}}},
       {"mark": {"type": "text", "align": "right", "baseline": "middle", "fontSize": 16, "color": "#555"},
        "encoding": {"x": {"datum": 780, "type": "quantitative", "axis": null}, "y": {"datum": -0.172, "type": "quantitative", "axis": null}, "text": {"value": "1665 cm⁻¹"}}},
       {"data": {"name": "k1665"}, "mark": {"type": "line", "strokeWidth": 1.6, "clip": true},
        "encoding": {
          "x": {"field": "t", "type": "quantitative", "axis": {"orient": "bottom", "values": [1,2,3,4,5,6,7,8,9,10,20,30,40,50,60,70,80,90,100,200,300,400,500,600,700,800,900,1000], "labels": false, "title": null}},
          "y": {"field": "v", "type": "quantitative", "axis": null},
          "color": {"field": "s", "type": "nominal", "legend": null}}},
       {"data": {"name": "f1665"}, "mark": {"type": "line", "strokeWidth": 6, "clip": true, "interpolate": "monotone"},
        "encoding": {
          "x": {"field": "t", "type": "quantitative", "axis": null},
          "y": {"field": "v", "type": "quantitative", "axis": null},
          "color": {"field": "s", "type": "nominal", "legend": null}}}
      ],
      "resolve": {"axis": {"x": "independent", "y": "independent"}}}
    ], "spacing": 0, "bounds": "flush"},
   {"hconcat": [
     {"width": 99, "height": 132,
      "layer": [
       {"mark": {"type": "rule", "color": "#000", "strokeWidth": 1.8},
        "encoding": {
          "x": {"datum": 0, "type": "quantitative", "scale": {"domain": [0, 1], "nice": false, "zero": false}, "axis": {"orient": "top", "values": [0, 0.5], "labels": false, "title": null}},
          "x2": {"datum": 1},
          "y": {"datum": 0, "type": "quantitative", "scale": {"domain": [-0.22, 0.102], "nice": false, "zero": false}, "axis": {"orient": "left", "values": [-0.2, -0.15, -0.1, -0.05, 0, 0.05], "labelExpr": "datum.value == 0 ? '0.0' : (datum.value == -0.2 ? '-0.2' : '')", "title": null, "labelPadding": 8}}}},
       {"data": {"name": "k1656"}, "mark": {"type": "line", "strokeWidth": 1.6, "clip": true},
        "encoding": {
          "x": {"field": "t", "type": "quantitative", "axis": {"orient": "bottom", "values": [0, 0.5], "labels": false, "title": null}},
          "y": {"field": "v", "type": "quantitative", "axis": null},
          "color": {"field": "s", "type": "nominal", "legend": null}}},
       {"data": {"name": "f1656"}, "mark": {"type": "line", "strokeWidth": 6, "clip": true, "interpolate": "monotone"},
        "encoding": {
          "x": {"field": "t", "type": "quantitative", "axis": null},
          "y": {"field": "v", "type": "quantitative", "axis": null},
          "color": {"field": "s", "type": "nominal", "legend": null}}}
      ],
      "resolve": {"axis": {"x": "independent", "y": "independent"}}},
     {"width": 264, "height": 132,
      "layer": [
       {"mark": {"type": "rule", "color": "#000", "strokeWidth": 1.8},
        "encoding": {
          "x": {"datum": 1, "type": "quantitative", "scale": {"type": "log", "domain": [1, 1000], "nice": false}, "axis": {"orient": "top", "values": [1,2,3,4,5,6,7,8,9,10,20,30,40,50,60,70,80,90,100,200,300,400,500,600,700,800,900,1000], "labels": false, "title": null}},
          "x2": {"datum": 1000},
          "y": {"datum": 0, "type": "quantitative", "scale": {"domain": [-0.22, 0.102], "nice": false, "zero": false}, "axis": {"orient": "right", "values": [-0.2, -0.15, -0.1, -0.05, 0, 0.05], "labels": false, "title": null}}}},
       {"mark": {"type": "text", "align": "right", "baseline": "middle", "fontSize": 16, "color": "#555"},
        "encoding": {"x": {"datum": 780, "type": "quantitative", "axis": null}, "y": {"datum": -0.167, "type": "quantitative", "axis": null}, "text": {"value": "1656 cm⁻¹"}}},
       {"data": {"name": "k1656"}, "mark": {"type": "line", "strokeWidth": 1.6, "clip": true},
        "encoding": {
          "x": {"field": "t", "type": "quantitative", "axis": {"orient": "bottom", "values": [1,2,3,4,5,6,7,8,9,10,20,30,40,50,60,70,80,90,100,200,300,400,500,600,700,800,900,1000], "labels": false, "title": null}},
          "y": {"field": "v", "type": "quantitative", "axis": null},
          "color": {"field": "s", "type": "nominal", "legend": null}}},
       {"data": {"name": "f1656"}, "mark": {"type": "line", "strokeWidth": 6, "clip": true, "interpolate": "monotone"},
        "encoding": {
          "x": {"field": "t", "type": "quantitative", "axis": null},
          "y": {"field": "v", "type": "quantitative", "axis": null},
          "color": {"field": "s", "type": "nominal", "legend": null}}}
      ],
      "resolve": {"axis": {"x": "independent", "y": "independent"}}}
    ], "spacing": 0, "bounds": "flush"},
   {"hconcat": [
     {"width": 99, "height": 132,
      "layer": [
       {"mark": {"type": "rule", "color": "#000", "strokeWidth": 1.8},
        "encoding": {
          "x": {"datum": 0, "type": "quantitative", "scale": {"domain": [0, 1], "nice": false, "zero": false}, "axis": {"orient": "top", "values": [0, 0.5], "labels": false, "title": null}},
          "x2": {"datum": 1},
          "y": {"datum": 0, "type": "quantitative", "scale": {"domain": [-0.22, 0.102], "nice": false, "zero": false}, "axis": {"orient": "left", "values": [-0.2, -0.15, -0.1, -0.05, 0, 0.05], "labelExpr": "datum.value == 0 ? '0.0' : (datum.value == -0.2 ? '-0.2' : '')", "title": null, "labelPadding": 8}}}},
       {"data": {"name": "k1659"}, "mark": {"type": "line", "strokeWidth": 1.6, "clip": true},
        "encoding": {
          "x": {"field": "t", "type": "quantitative", "axis": {"orient": "bottom", "values": [0, 0.5], "labels": false, "title": null}},
          "y": {"field": "v", "type": "quantitative", "axis": null},
          "color": {"field": "s", "type": "nominal", "legend": null}}},
       {"data": {"name": "f1659"}, "mark": {"type": "line", "strokeWidth": 6, "clip": true, "interpolate": "monotone"},
        "encoding": {
          "x": {"field": "t", "type": "quantitative", "axis": null},
          "y": {"field": "v", "type": "quantitative", "axis": null},
          "color": {"field": "s", "type": "nominal", "legend": null}}}
      ],
      "resolve": {"axis": {"x": "independent", "y": "independent"}}},
     {"width": 264, "height": 132,
      "layer": [
       {"mark": {"type": "rule", "color": "#000", "strokeWidth": 1.8},
        "encoding": {
          "x": {"datum": 1, "type": "quantitative", "scale": {"type": "log", "domain": [1, 1000], "nice": false}, "axis": {"orient": "top", "values": [1,2,3,4,5,6,7,8,9,10,20,30,40,50,60,70,80,90,100,200,300,400,500,600,700,800,900,1000], "labels": false, "title": null}},
          "x2": {"datum": 1000},
          "y": {"datum": 0, "type": "quantitative", "scale": {"domain": [-0.22, 0.102], "nice": false, "zero": false}, "axis": {"orient": "right", "values": [-0.2, -0.15, -0.1, -0.05, 0, 0.05], "labels": false, "title": null}}}},
       {"mark": {"type": "text", "align": "right", "baseline": "middle", "fontSize": 16, "color": "#555"},
        "encoding": {"x": {"datum": 780, "type": "quantitative", "axis": null}, "y": {"datum": -0.172, "type": "quantitative", "axis": null}, "text": {"value": "1659 cm⁻¹"}}},
       {"data": {"name": "k1659"}, "mark": {"type": "line", "strokeWidth": 1.6, "clip": true},
        "encoding": {
          "x": {"field": "t", "type": "quantitative", "axis": {"orient": "bottom", "values": [1,2,3,4,5,6,7,8,9,10,20,30,40,50,60,70,80,90,100,200,300,400,500,600,700,800,900,1000], "labels": false, "title": null}},
          "y": {"field": "v", "type": "quantitative", "axis": null},
          "color": {"field": "s", "type": "nominal", "legend": null}}},
       {"data": {"name": "f1659"}, "mark": {"type": "line", "strokeWidth": 6, "clip": true, "interpolate": "monotone"},
        "encoding": {
          "x": {"field": "t", "type": "quantitative", "axis": null},
          "y": {"field": "v", "type": "quantitative", "axis": null},
          "color": {"field": "s", "type": "nominal", "legend": null}}}
      ],
      "resolve": {"axis": {"x": "independent", "y": "independent"}}}
    ], "spacing": 0, "bounds": "flush"},
   {"hconcat": [
     {"width": 99, "height": 132,
      "layer": [
       {"mark": {"type": "rule", "color": "#000", "strokeWidth": 1.8},
        "encoding": {
          "x": {"datum": 0, "type": "quantitative", "scale": {"domain": [0, 1], "nice": false, "zero": false}, "axis": {"orient": "top", "values": [0, 0.5], "labels": false, "title": null}},
          "x2": {"datum": 1},
          "y": {"datum": 0, "type": "quantitative", "scale": {"domain": [-0.22, 0.102], "nice": false, "zero": false}, "axis": {"orient": "left", "values": [-0.2, -0.15, -0.1, -0.05, 0, 0.05], "labelExpr": "datum.value == 0 ? '0.0' : (datum.value == -0.2 ? '-0.2' : '')", "title": null, "labelPadding": 8}}}},
       {"data": {"name": "k1653"}, "mark": {"type": "line", "strokeWidth": 1.6, "clip": true},
        "encoding": {
          "x": {"field": "t", "type": "quantitative", "axis": {"orient": "bottom", "values": [0, 0.5], "labelExpr": "datum.value == 0 ? '0' : ''", "title": null, "labelPadding": 15}},
          "y": {"field": "v", "type": "quantitative", "axis": null},
          "color": {"field": "s", "type": "nominal", "legend": null}}},
       {"data": {"name": "f1653"}, "mark": {"type": "line", "strokeWidth": 6, "clip": true, "interpolate": "monotone"},
        "encoding": {
          "x": {"field": "t", "type": "quantitative", "axis": null},
          "y": {"field": "v", "type": "quantitative", "axis": null},
          "color": {"field": "s", "type": "nominal", "legend": null}}},
       {"mark": {"type": "rule", "color": "#1f8f1f", "strokeWidth": 6, "strokeCap": "round"},
        "encoding": {"x": {"datum": 0.03, "type": "quantitative", "axis": null}, "x2": {"datum": 0.25}, "y": {"datum": -0.113, "type": "quantitative", "axis": null}}},
       {"mark": {"type": "text", "align": "left", "baseline": "middle", "fontSize": 18, "color": "#111"},
        "encoding": {"x": {"datum": 0.28, "type": "quantitative", "axis": null}, "y": {"datum": -0.113, "type": "quantitative", "axis": null}, "text": {"value": "E123T"}}},
       {"mark": {"type": "rule", "color": "#0a1a8f", "strokeWidth": 6, "strokeCap": "round"},
        "encoding": {"x": {"datum": 0.03, "type": "quantitative", "axis": null}, "x2": {"datum": 0.25}, "y": {"datum": -0.178, "type": "quantitative", "axis": null}}},
       {"mark": {"type": "text", "align": "left", "baseline": "middle", "fontSize": 18, "color": "#111"},
        "encoding": {"x": {"datum": 0.28, "type": "quantitative", "axis": null}, "y": {"datum": -0.178, "type": "quantitative", "axis": null}, "text": {"value": "D253N"}}}
      ],
      "resolve": {"axis": {"x": "independent", "y": "independent"}}},
     {"width": 264, "height": 132,
      "layer": [
       {"mark": {"type": "rule", "color": "#000", "strokeWidth": 1.8},
        "encoding": {
          "x": {"datum": 1, "type": "quantitative", "scale": {"type": "log", "domain": [1, 1000], "nice": false}, "axis": {"orient": "top", "values": [1,2,3,4,5,6,7,8,9,10,20,30,40,50,60,70,80,90,100,200,300,400,500,600,700,800,900,1000], "labels": false, "title": null}},
          "x2": {"datum": 1000},
          "y": {"datum": 0, "type": "quantitative", "scale": {"domain": [-0.22, 0.102], "nice": false, "zero": false}, "axis": {"orient": "right", "values": [-0.2, -0.15, -0.1, -0.05, 0, 0.05], "labels": false, "title": null}}}},
       {"mark": {"type": "text", "align": "right", "baseline": "middle", "fontSize": 16, "color": "#555"},
        "encoding": {"x": {"datum": 780, "type": "quantitative", "axis": null}, "y": {"datum": -0.174, "type": "quantitative", "axis": null}, "text": {"value": "1653 cm⁻¹"}}},
       {"data": {"name": "k1653"}, "mark": {"type": "line", "strokeWidth": 1.6, "clip": true},
        "encoding": {
          "x": {"field": "t", "type": "quantitative", "axis": {"orient": "bottom", "values": [1,2,3,4,5,6,7,8,9,10,20,30,40,50,60,70,80,90,100,200,300,400,500,600,700,800,900,1000], "format": "d", "labelExpr": "indexof([1, 10, 100, 1000], datum.value) >= 0 ? datum.label : ''", "title": "Delay Time / ps", "titleX": 80, "titlePadding": 21, "labelPadding": 15}},
          "y": {"field": "v", "type": "quantitative", "axis": null},
          "color": {"field": "s", "type": "nominal", "legend": null}}},
       {"data": {"name": "f1653"}, "mark": {"type": "line", "strokeWidth": 6, "clip": true, "interpolate": "monotone"},
        "encoding": {
          "x": {"field": "t", "type": "quantitative", "axis": null},
          "y": {"field": "v", "type": "quantitative", "axis": null},
          "color": {"field": "s", "type": "nominal", "legend": null}}}
      ],
      "resolve": {"axis": {"x": "independent", "y": "independent"}}}
    ], "spacing": 0, "bounds": "flush"}
  ],
  "spacing": 3,
  "title": {"text": "Absorbance Change / a.u.", "orient": "left", "anchor": "middle", "offset": 32}
 },
 {
  "vconcat": [
   {"width": 363, "height": 132,
    "data": {"name": "spec"}, "transform": [{"filter": "datum.p == 'wt'"}],
    "layer": [
     {"mark": {"type": "area", "color": "#e8232e", "interpolate": "monotone", "clip": true},
      "encoding": {
        "x": {"field": "wn", "type": "quantitative", "scale": {"domain": [1615, 1685], "reverse": true, "nice": false, "zero": false}, "axis": {"orient": "bottom", "values": [1620, 1630, 1640, 1650, 1660, 1670, 1680], "labels": false, "title": null}},
        "y": {"field": "c0", "type": "quantitative", "scale": {"domain": [-0.22, 0.102], "nice": false, "zero": false}, "axis": {"orient": "right", "values": [-0.2, -0.1, 0], "labelExpr": "datum.value == 0 ? '0.0' : (datum.value == -0.2 ? '-0.2' : '')", "title": null, "labelPadding": 10}},
        "y2": {"field": "c1"}}},
     {"mark": {"type": "area", "color": "#ee7234", "interpolate": "monotone", "clip": true},
      "encoding": {"x": {"field": "wn", "type": "quantitative", "axis": null}, "y": {"field": "c1", "type": "quantitative", "axis": null}, "y2": {"field": "c2"}}},
     {"mark": {"type": "area", "color": "#dcc43c", "interpolate": "monotone", "clip": true},
      "encoding": {"x": {"field": "wn", "type": "quantitative", "axis": null}, "y": {"field": "c2", "type": "quantitative", "axis": null}, "y2": {"field": "c3"}}},
     {"mark": {"type": "area", "color": "#bdeb3f", "interpolate": "monotone", "clip": true},
      "encoding": {"x": {"field": "wn", "type": "quantitative", "axis": null}, "y": {"field": "c3", "type": "quantitative", "axis": null}, "y2": {"field": "fin"}}},
     {"data": {"values": [{}]}, "mark": {"type": "rule", "color": "#000", "strokeWidth": 2},
      "encoding": {
        "x": {"datum": 1685, "type": "quantitative", "axis": {"orient": "top", "values": [1620, 1630, 1640, 1650, 1660, 1670, 1680], "format": "d", "labelExpr": "datum.value % 20 == 0 ? datum.label : ''", "title": "Wavenumber / cm⁻¹", "titlePadding": 24, "labelPadding": 17}},
        "x2": {"datum": 1615},
        "y": {"datum": 0, "type": "quantitative", "axis": {"orient": "left", "values": [-0.2, -0.1, 0], "labels": false, "title": null}}}},
     {"mark": {"type": "line", "color": "#0d1a8a", "strokeWidth": 3, "interpolate": "monotone", "clip": true},
      "encoding": {"x": {"field": "wn", "type": "quantitative", "axis": null}, "y": {"field": "fin", "type": "quantitative", "axis": null}}},
     {"data": {"values": [{}]}, "mark": {"type": "text", "align": "right", "baseline": "middle", "fontSize": 18, "color": "#ff1f1f"},
      "encoding": {"x": {"datum": 1651.8, "type": "quantitative", "axis": null}, "y": {"datum": 0.055, "type": "quantitative", "axis": null}, "text": {"value": "0.4 ps"}}},
     {"data": {"values": [{}]}, "mark": {"type": "text", "align": "center", "baseline": "middle", "fontSize": 13, "color": "#222"},
      "encoding": {"x": {"datum": 1649.8, "type": "quantitative", "axis": null}, "y": {"datum": 0.053, "type": "quantitative", "axis": null}, "text": {"value": "→"}}},
     {"data": {"values": [{}]}, "mark": {"type": "text", "align": "left", "baseline": "middle", "fontSize": 18, "color": "#1a237e"},
      "encoding": {"x": {"datum": 1647.4, "type": "quantitative", "axis": null}, "y": {"datum": 0.055, "type": "quantitative", "axis": null}, "text": {"value": "1.8 ns"}}},
     {"data": {"values": [{}]}, "mark": {"type": "text", "align": "left", "baseline": "middle", "fontSize": 18, "color": "#111"},
      "encoding": {"x": {"datum": 1680, "type": "quantitative", "axis": null}, "y": {"datum": -0.155, "type": "quantitative", "axis": null}, "text": {"value": "wt"}}},
     {"data": {"values": [{}]}, "mark": {"type": "text", "align": "left", "baseline": "middle", "fontSize": 16, "color": "#555"},
      "encoding": {"x": {"datum": 1670.2, "type": "quantitative", "axis": null}, "y": {"datum": -0.134, "type": "quantitative", "axis": null}, "text": {"value": "1665 cm⁻¹"}}},
     {"data": {"values": [{}]}, "mark": {"type": "text", "align": "left", "baseline": "middle", "fontSize": 16, "color": "#555"},
      "encoding": {"x": {"datum": 1639, "type": "quantitative", "axis": null}, "y": {"datum": -0.187, "type": "quantitative", "axis": null}, "text": {"value": "1634 cm⁻¹"}}}
    ],
    "resolve": {"axis": {"x": "independent", "y": "independent"}}},
   {"width": 363, "height": 132,
    "data": {"name": "spec"}, "transform": [{"filter": "datum.p == 'R120H'"}],
    "layer": [
     {"mark": {"type": "area", "color": "#e8232e", "interpolate": "monotone", "clip": true},
      "encoding": {
        "x": {"field": "wn", "type": "quantitative", "scale": {"domain": [1615, 1685], "reverse": true, "nice": false, "zero": false}, "axis": {"orient": "bottom", "values": [1620, 1630, 1640, 1650, 1660, 1670, 1680], "labels": false, "title": null}},
        "y": {"field": "c0", "type": "quantitative", "scale": {"domain": [-0.22, 0.102], "nice": false, "zero": false}, "axis": {"orient": "right", "values": [-0.2, -0.1, 0], "labelExpr": "datum.value == 0 ? '0.0' : (datum.value == -0.2 ? '-0.2' : '')", "title": null, "labelPadding": 10}},
        "y2": {"field": "c1"}}},
     {"mark": {"type": "area", "color": "#ee7234", "interpolate": "monotone", "clip": true},
      "encoding": {"x": {"field": "wn", "type": "quantitative", "axis": null}, "y": {"field": "c1", "type": "quantitative", "axis": null}, "y2": {"field": "c2"}}},
     {"mark": {"type": "area", "color": "#dcc43c", "interpolate": "monotone", "clip": true},
      "encoding": {"x": {"field": "wn", "type": "quantitative", "axis": null}, "y": {"field": "c2", "type": "quantitative", "axis": null}, "y2": {"field": "c3"}}},
     {"mark": {"type": "area", "color": "#bdeb3f", "interpolate": "monotone", "clip": true},
      "encoding": {"x": {"field": "wn", "type": "quantitative", "axis": null}, "y": {"field": "c3", "type": "quantitative", "axis": null}, "y2": {"field": "fin"}}},
     {"data": {"values": [{}]}, "mark": {"type": "rule", "color": "#000", "strokeWidth": 2},
      "encoding": {
        "x": {"datum": 1685, "type": "quantitative", "axis": {"orient": "top", "values": [1620, 1630, 1640, 1650, 1660, 1670, 1680], "labels": false, "title": null}},
        "x2": {"datum": 1615},
        "y": {"datum": 0, "type": "quantitative", "axis": {"orient": "left", "values": [-0.2, -0.1, 0], "labels": false, "title": null}}}},
     {"mark": {"type": "line", "color": "#0d1a8a", "strokeWidth": 3, "interpolate": "monotone", "clip": true},
      "encoding": {"x": {"field": "wn", "type": "quantitative", "axis": null}, "y": {"field": "fin", "type": "quantitative", "axis": null}}},
     {"data": {"values": [{}]}, "mark": {"type": "text", "align": "left", "baseline": "middle", "fontSize": 18, "color": "#111"},
      "encoding": {"x": {"datum": 1682, "type": "quantitative", "axis": null}, "y": {"datum": -0.155, "type": "quantitative", "axis": null}, "text": {"value": "R120H"}}},
     {"data": {"values": [{}]}, "mark": {"type": "text", "align": "left", "baseline": "middle", "fontSize": 16, "color": "#555"},
      "encoding": {"x": {"datum": 1661.2, "type": "quantitative", "axis": null}, "y": {"datum": -0.106, "type": "quantitative", "axis": null}, "text": {"value": "1657 cm⁻¹"}}}
    ],
    "resolve": {"axis": {"x": "independent", "y": "independent"}}},
   {"width": 363, "height": 132,
    "data": {"name": "spec"}, "transform": [{"filter": "datum.p == 'E123T'"}],
    "layer": [
     {"mark": {"type": "area", "color": "#e8232e", "interpolate": "monotone", "clip": true},
      "encoding": {
        "x": {"field": "wn", "type": "quantitative", "scale": {"domain": [1615, 1685], "reverse": true, "nice": false, "zero": false}, "axis": {"orient": "bottom", "values": [1620, 1630, 1640, 1650, 1660, 1670, 1680], "labels": false, "title": null}},
        "y": {"field": "c0", "type": "quantitative", "scale": {"domain": [-0.22, 0.102], "nice": false, "zero": false}, "axis": {"orient": "right", "values": [-0.2, -0.1, 0], "labelExpr": "datum.value == 0 ? '0.0' : (datum.value == -0.2 ? '-0.2' : '')", "title": null, "labelPadding": 10}},
        "y2": {"field": "c1"}}},
     {"mark": {"type": "area", "color": "#ee7234", "interpolate": "monotone", "clip": true},
      "encoding": {"x": {"field": "wn", "type": "quantitative", "axis": null}, "y": {"field": "c1", "type": "quantitative", "axis": null}, "y2": {"field": "c2"}}},
     {"mark": {"type": "area", "color": "#dcc43c", "interpolate": "monotone", "clip": true},
      "encoding": {"x": {"field": "wn", "type": "quantitative", "axis": null}, "y": {"field": "c2", "type": "quantitative", "axis": null}, "y2": {"field": "c3"}}},
     {"mark": {"type": "area", "color": "#bdeb3f", "interpolate": "monotone", "clip": true},
      "encoding": {"x": {"field": "wn", "type": "quantitative", "axis": null}, "y": {"field": "c3", "type": "quantitative", "axis": null}, "y2": {"field": "fin"}}},
     {"data": {"values": [{}]}, "mark": {"type": "rule", "color": "#000", "strokeWidth": 2},
      "encoding": {
        "x": {"datum": 1685, "type": "quantitative", "axis": {"orient": "top", "values": [1620, 1630, 1640, 1650, 1660, 1670, 1680], "labels": false, "title": null}},
        "x2": {"datum": 1615},
        "y": {"datum": 0, "type": "quantitative", "axis": {"orient": "left", "values": [-0.2, -0.1, 0], "labels": false, "title": null}}}},
     {"mark": {"type": "line", "color": "#0d1a8a", "strokeWidth": 3, "interpolate": "monotone", "clip": true},
      "encoding": {"x": {"field": "wn", "type": "quantitative", "axis": null}, "y": {"field": "fin", "type": "quantitative", "axis": null}}},
     {"data": {"values": [{}]}, "mark": {"type": "text", "align": "left", "baseline": "middle", "fontSize": 18, "color": "#111"},
      "encoding": {"x": {"datum": 1682, "type": "quantitative", "axis": null}, "y": {"datum": -0.156, "type": "quantitative", "axis": null}, "text": {"value": "E123T"}}},
     {"data": {"values": [{}]}, "mark": {"type": "text", "align": "left", "baseline": "middle", "fontSize": 16, "color": "#555"},
      "encoding": {"x": {"datum": 1663.8, "type": "quantitative", "axis": null}, "y": {"datum": -0.132, "type": "quantitative", "axis": null}, "text": {"value": "1658 cm⁻¹"}}},
     {"data": {"values": [{}]}, "mark": {"type": "text", "align": "left", "baseline": "middle", "fontSize": 16, "color": "#555"},
      "encoding": {"x": {"datum": 1634.6, "type": "quantitative", "axis": null}, "y": {"datum": -0.176, "type": "quantitative", "axis": null}, "text": {"value": "1628 cm⁻¹"}}}
    ],
    "resolve": {"axis": {"x": "independent", "y": "independent"}}},
   {"width": 363, "height": 132,
    "data": {"name": "spec"}, "transform": [{"filter": "datum.p == 'D253N'"}],
    "layer": [
     {"mark": {"type": "area", "color": "#e8232e", "interpolate": "monotone", "clip": true},
      "encoding": {
        "x": {"field": "wn", "type": "quantitative", "scale": {"domain": [1615, 1685], "reverse": true, "nice": false, "zero": false}, "axis": {"orient": "bottom", "values": [1620, 1630, 1640, 1650, 1660, 1670, 1680], "format": "d", "labelExpr": "datum.value % 20 == 0 ? datum.label : ''", "title": "Wavenumber / cm⁻¹", "titlePadding": 21, "labelPadding": 15}},
        "y": {"field": "c0", "type": "quantitative", "scale": {"domain": [-0.22, 0.102], "nice": false, "zero": false}, "axis": {"orient": "right", "values": [-0.2, -0.1, 0], "labelExpr": "datum.value == 0 ? '0.0' : (datum.value == -0.2 ? '-0.2' : '')", "title": null, "labelPadding": 10}},
        "y2": {"field": "c1"}}},
     {"mark": {"type": "area", "color": "#ee7234", "interpolate": "monotone", "clip": true},
      "encoding": {"x": {"field": "wn", "type": "quantitative", "axis": null}, "y": {"field": "c1", "type": "quantitative", "axis": null}, "y2": {"field": "c2"}}},
     {"mark": {"type": "area", "color": "#dcc43c", "interpolate": "monotone", "clip": true},
      "encoding": {"x": {"field": "wn", "type": "quantitative", "axis": null}, "y": {"field": "c2", "type": "quantitative", "axis": null}, "y2": {"field": "c3"}}},
     {"mark": {"type": "area", "color": "#bdeb3f", "interpolate": "monotone", "clip": true},
      "encoding": {"x": {"field": "wn", "type": "quantitative", "axis": null}, "y": {"field": "c3", "type": "quantitative", "axis": null}, "y2": {"field": "fin"}}},
     {"data": {"values": [{}]}, "mark": {"type": "rule", "color": "#000", "strokeWidth": 2},
      "encoding": {
        "x": {"datum": 1685, "type": "quantitative", "axis": {"orient": "top", "values": [1620, 1630, 1640, 1650, 1660, 1670, 1680], "labels": false, "title": null}},
        "x2": {"datum": 1615},
        "y": {"datum": 0, "type": "quantitative", "axis": {"orient": "left", "values": [-0.2, -0.1, 0], "labels": false, "title": null}}}},
     {"mark": {"type": "line", "color": "#0d1a8a", "strokeWidth": 3, "interpolate": "monotone", "clip": true},
      "encoding": {"x": {"field": "wn", "type": "quantitative", "axis": null}, "y": {"field": "fin", "type": "quantitative", "axis": null}}},
     {"data": {"values": [{}]}, "mark": {"type": "text", "align": "left", "baseline": "middle", "fontSize": 18, "color": "#111"},
      "encoding": {"x": {"datum": 1682, "type": "quantitative", "axis": null}, "y": {"datum": -0.149, "type": "quantitative", "axis": null}, "text": {"value": "D253N"}}},
     {"data": {"values": [{}]}, "mark": {"type": "text", "align": "left", "baseline": "middle", "fontSize": 16, "color": "#555"},
      "encoding": {"x": {"datum": 1658.6, "type": "quantitative", "axis": null}, "y": {"datum": -0.113, "type": "quantitative", "axis": null}, "text": {"value": "1653 cm⁻¹"}}}
    ],
    "resolve": {"axis": {"x": "independent", "y": "independent"}}}
  ],
  "spacing": 3,
  "title": {"text": "Absorbance Change / a.u.", "orient": "right", "anchor": "middle", "offset": 18, "fontSize": 21}
 }
],
"spacing": 21
}
